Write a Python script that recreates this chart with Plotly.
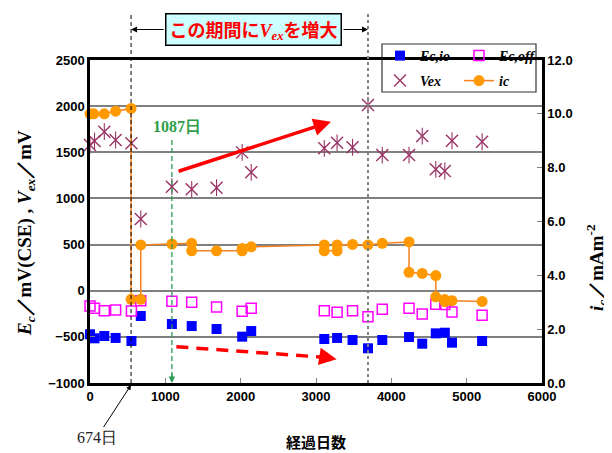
import plotly.graph_objects as go

# ---- data ----
days = [0, 60, 190, 340, 550, 674, 1087, 1350, 1680, 2020, 2140, 3110, 3280,
        3485, 3690, 3880, 4235, 4410, 4590, 4710, 4805, 5205]
ec_io = [-472, -516, -491, -512, -545, -274, -361, -383, -415, -498, -437, -523,
         -512, -534, -624, -534, -502, -574, -462, -455, -563, -545]
ec_off = [-166, -191, -217, -209, -220, -108, -115, -126, -177, -223, -191, -217,
          -234, -217, -282, -202, -191, -252, -147, -150, -231, -267]
vex = [1579, 1622, 1723, 1633, 1597, 777, 1127, 1099, 1116, 1499, 1283, 1543,
       1603, 1554, 2012, 1470, 1470, 1676, 1315, 1297, 1625, 1614]

ic_days = [0, 50, 190, 340, 545, 545, 674, 674, 1087, 1350, 1350, 1680, 2020, 2020,
           2140, 3110, 3110, 3280, 3280, 3485, 3690, 3880, 4235, 4235, 4410, 4590,
           4590, 4710, 4710, 4805, 5205]
ic = [10.0, 10.0, 10.0, 10.1, 10.2, 3.11, 3.11, 5.13, 5.16, 5.19, 4.91, 4.91, 4.91,
      5.00, 5.06, 5.13, 4.91, 4.91, 5.13, 5.15, 5.13, 5.19, 5.24, 4.11, 4.07, 3.99,
      3.20, 3.10, 3.02, 3.06, 3.03]

x_ticks = [0, 1000, 2000, 3000, 4000, 5000, 6000]
y_ticks = [-1000, -500, 0, 500, 1000, 1500, 2000, 2500]
y2_ticks = [0, 2, 4, 6, 8, 10, 12]

period_start, period_end = 545, 3690
green_day = 1087

SERIF = "Liberation Serif"
SANS = "Liberation Sans"
CJK = "Noto Sans CJK JP"

# plot area in reference pixels: left 90, right 542, top 60, bottom 383
PL, PR, PT, PB = 90, 542, 60, 383
PW, PH = PR - PL, PB - PT


def px(xpix):
    return (xpix - PL) / PW


def py(ypix):
    return (PB - ypix) / PH


fig = go.Figure()

fig.add_trace(go.Scatter(
    x=days, y=ec_io, mode="markers", name="Ec,io", legend="legend",
    marker=dict(symbol="square", size=10, color="#0000FF"), cliponaxis=False))
fig.add_trace(go.Scatter(
    x=days, y=ec_off, mode="markers", name="Ec,off", legend="legend",
    marker=dict(symbol="square-open", size=10, color="#FF00FF", line=dict(width=1.5)),
    cliponaxis=False))
fig.add_trace(go.Scatter(
    x=days, y=vex, mode="markers", name="Vex", legend="legend2",
    marker=dict(symbol="x-thin-open", size=12, color="#993366", line=dict(width=1.4)),
    cliponaxis=False))
fig.add_trace(go.Scatter(
    x=days, y=vex, mode="markers", showlegend=False, hoverinfo="skip",
    marker=dict(symbol="line-ns-open", size=12, color="#993366", line=dict(width=1.1)),
    cliponaxis=False))
fig.add_trace(go.Scatter(
    x=ic_days, y=ic, mode="lines+markers", name="ic", legend="legend2", yaxis="y2",
    line=dict(color="#F5821F", width=1.5),
    marker=dict(symbol="circle", size=11, color="#FF9900"), cliponaxis=False))

shapes = [
    dict(type="line", xref="x", yref="paper", x0=period_start, x1=period_start,
         y0=0, y1=py(13), line=dict(color="black", width=1, dash="4px,3px")),
    dict(type="line", xref="x", yref="paper", x0=period_end, x1=period_end,
         y0=0, y1=py(13), line=dict(color="#808080", width=2, dash="3px,3px")),
    dict(type="line", xref="x", yref="y", x0=green_day, x1=green_day,
         y0=1633, y1=-960, line=dict(color="#2E9957", width=1.3, dash="5px,3px")),
    dict(type="line", xref="x", yref="y", x0=1147, x1=3120, y0=-607, y1=-722,
         line=dict(color="#FF0000", width=3.5, dash="12px,8px")),
    # legend frame
    dict(type="rect", xref="paper", yref="paper", x0=px(382), x1=px(536),
         y0=py(92), y1=py(44),
         line=dict(color="#333333", width=1.2), fillcolor="white", layer="below"),
]

annotations = [
    # banner
    dict(xref="paper", yref="paper", x=px(253.5), y=py(29.5), xanchor="center",
         yanchor="middle",
         text="この期間に<i><span style='font-family:Liberation Serif'>V<sub>ex</sub></span></i>を増大",
         showarrow=False, font=dict(family=CJK, size=18, color="#FF0000", weight="bold"),
         bgcolor="#CCFFFF", bordercolor="black", borderwidth=1.5, width=172, height=28,
         borderpad=1),
    dict(xref="x", yref="paper", x=period_start, y=py(29.5), text="",
         showarrow=True, ax=34, ay=0, arrowhead=2, arrowwidth=1.2, arrowcolor="black",
         arrowsize=1),
    dict(xref="x", yref="paper", x=period_end, y=py(29.5), text="",
         showarrow=True, ax=-26, ay=0, arrowhead=2, arrowwidth=1.2, arrowcolor="black",
         arrowsize=1),
    # red solid arrow
    dict(xref="x", yref="y", axref="x", ayref="y", x=3199, y=1831, ax=1156, ay=1289,
         text="", showarrow=True, arrowhead=2, arrowsize=1, arrowwidth=3.5,
         arrowcolor="#FF0000"),
    # red dashed arrow head
    dict(xref="x", yref="y", axref="x", ayref="y", x=3274, y=-743, ax=3100, ay=-720,
         text="", showarrow=True, arrowhead=2, arrowsize=1, arrowwidth=3.5,
         arrowcolor="#FF0000"),
    # green arrow head
    dict(xref="x", yref="y", axref="x", ayref="y", x=green_day, y=-1000, ax=green_day,
         ay=-880, text="", showarrow=True, arrowhead=2, arrowsize=1, arrowwidth=1.3,
         arrowcolor="#2E9957"),
    dict(xref="x", yref="y", x=1150, y=1777, xanchor="center", yanchor="middle",
         text="1087日", showarrow=False,
         font=dict(family=SERIF, size=16, color="#2E9E4A", weight="bold")),
    # 674 day label
    dict(xref="x", yref="paper", x=period_start, y=py(385), text="674日",
         showarrow=True, ax=-34, ay=52, arrowhead=2, arrowsize=1, arrowwidth=1,
         arrowcolor="black", font=dict(family=SERIF, size=16, color="#222222")),
    # axis titles
    dict(xref="paper", yref="paper", x=px(316), y=py(441), xanchor="center",
         yanchor="middle", text="経過日数", showarrow=False,
         font=dict(family=CJK, size=15, color="black", weight="bold")),
    dict(xref="paper", yref="paper", x=px(26), y=py(233), xanchor="center",
         yanchor="middle",
         text="<i>E<sub>c</sub></i>／mV(CSE) , <i>V<sub>ex</sub></i>／mV",
         textangle=-90, showarrow=False,
         font=dict(family=SERIF, size=19, color="black", weight="bold")),
    dict(xref="paper", yref="paper", x=px(596), y=py(268), xanchor="center",
         yanchor="middle",
         text="<i>i<sub>c</sub></i>／mAm<sup>-2</sup>",
         textangle=-90, showarrow=False,
         font=dict(family=SERIF, size=19, color="black", weight="bold")),
]

tickfont = dict(family=SANS, size=13, color="black", weight="bold")
legend_font = dict(family=SERIF, size=14, color="black", weight="bold", style="italic")

# the page puts the figure 8px from the top-left corner, so the figure is
# made 8px smaller and its plot area shifted to land where the reference has it
OFF = 8
W, H = 612 - OFF, 453 - OFF

fig.update_layout(
    width=W, height=H,
    margin=dict(l=PL - OFF, r=W - (PR - OFF), t=PT - OFF, b=H - (PB - OFF)),
    paper_bgcolor="white", plot_bgcolor="white",
    xaxis=dict(range=[0, 6000], tickvals=x_ticks, ticks="inside", ticklen=5,
               tickwidth=1, tickcolor="#808080", showgrid=False, zeroline=False,
               showline=True, linecolor="black", linewidth=2.5, mirror=True,
               tickfont=tickfont),
    yaxis=dict(range=[-1000, 2500], tickvals=y_ticks, ticks="inside", ticklen=5,
               tickcolor="#808080", showgrid=True, gridcolor="#808080", gridwidth=1.5,
               zeroline=False, showline=True, linecolor="black", linewidth=2.5,
               mirror=True, tickfont=tickfont),
    yaxis2=dict(range=[0, 12], tickvals=y2_ticks, tickformat=".1f", overlaying="y",
                side="right", ticks="inside", ticklen=5, tickcolor="#808080",
                showgrid=False, zeroline=False, showline=True, linecolor="black",
                linewidth=2.5, tickfont=tickfont),
    legend=dict(orientation="h", x=px(380), y=py(40),
                xanchor="left", yanchor="top", bgcolor="rgba(0,0,0,0)",
                font=legend_font, entrywidth=34, tracegroupgap=0),
    legend2=dict(orientation="h", x=px(380), y=py(65),
                 xanchor="left", yanchor="top", bgcolor="rgba(0,0,0,0)",
                 font=legend_font, entrywidth=34, tracegroupgap=0),
    shapes=shapes, annotations=annotations,
    showlegend=True,
)

fig.write_html("out.html")
